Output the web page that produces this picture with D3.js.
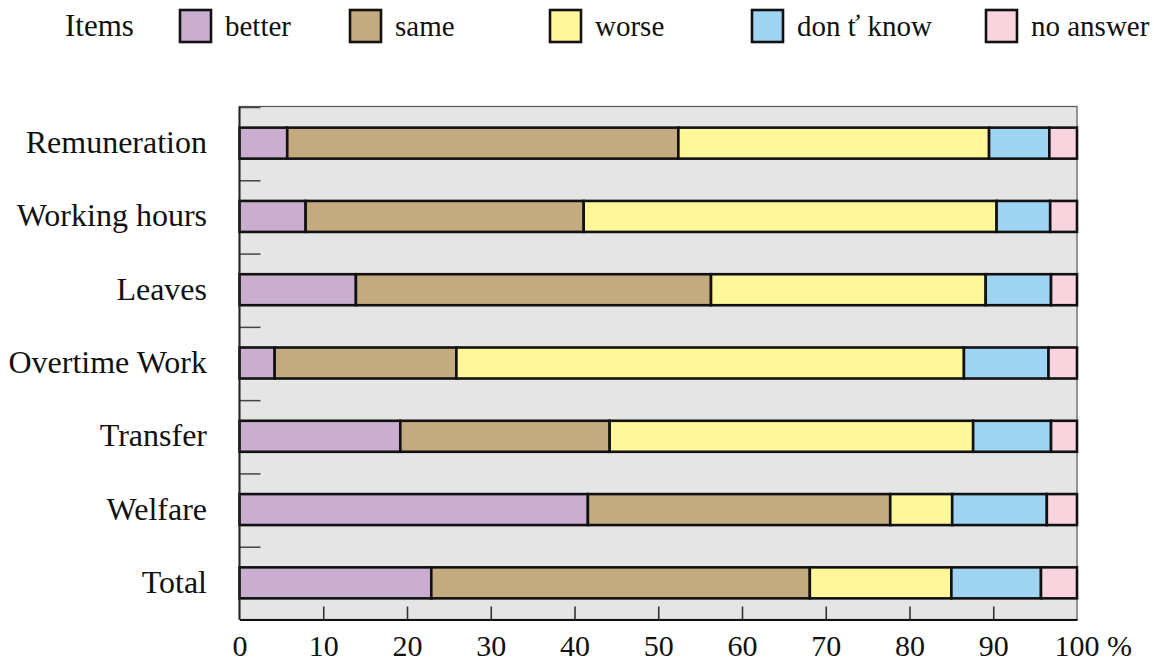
<!DOCTYPE html>
<html>
<head>
<meta charset="utf-8">
<script src="https://cdn.jsdelivr.net/npm/d3@7"></script>
</head>
<body style="margin:0">
<svg id="chart" width="1154" height="661" font-family="Liberation Serif"></svg>
<script>
// Survey items (rows, top to bottom)
const categories = ["Remuneration", "Working hours", "Leaves", "Overtime Work", "Transfer", "Welfare", "Total"];

// Answer groups, in stacking order
const seriesNames = ["better", "same", "worse", "don ť know", "no answer"];

// Share of answers per item (%)
const better   = [5.7,  7.9, 13.9,  4.2, 19.2, 41.6, 22.9];
const same     = [46.7, 33.2, 42.4, 21.7, 25.0, 36.1, 45.2];
const worse    = [37.1, 49.3, 32.8, 60.6, 43.4,  7.4, 16.9];
const dontKnow = [7.2,  6.4,  7.8, 10.1,  9.3, 11.3, 10.7];
const noAnswer = [3.3,  3.2,  3.1,  3.4,  3.1,  3.6,  4.3];

const xTicks = [0, 10, 20, 30, 40, 50, 60, 70, 80, 90, 100];

const colors = ["#c9aecf", "#c4aa7f", "#fff79a", "#9fd5f2", "#f9d3de"];

const SERIF = "Liberation Serif";

const svg = d3.select("#chart");

const plot = { left: 239.5, right: 1077, top: 106.5, bottom: 619.5 };

const x = d3.scaleLinear().domain([0, 100]).range([plot.left, plot.right]);
const y = d3.scaleBand().domain(categories).range([plot.top, plot.bottom]).padding(0);
const barH = 31;

// Stack the rows
const rows = categories.map((c, i) => ({
  item: c,
  [seriesNames[0]]: better[i],
  [seriesNames[1]]: same[i],
  [seriesNames[2]]: worse[i],
  [seriesNames[3]]: dontKnow[i],
  [seriesNames[4]]: noAnswer[i]
}));
const stacked = d3.stack().keys(seriesNames)(rows);

// Plot background and frame
svg.append("rect")
  .attr("x", plot.left).attr("y", plot.top)
  .attr("width", plot.right - plot.left).attr("height", plot.bottom - plot.top)
  .attr("fill", "#e5e5e5").attr("stroke", "#555").attr("stroke-width", 1.2);

// Short separators between rows on the left edge
const sepY = categories.map(c => y(c));
svg.append("g").selectAll("line").data(sepY).join("line")
  .attr("x1", plot.left).attr("x2", plot.left + 21)
  .attr("y1", d => d + 1).attr("y2", d => d + 1)
  .attr("stroke", "#444").attr("stroke-width", 1.5);

// Bars
const barG = svg.append("g");
stacked.forEach((layer, k) => {
  barG.append("g").selectAll("rect").data(layer).join("rect")
    .attr("x", d => x(d[0]))
    .attr("width", d => x(d[1]) - x(d[0]))
    .attr("y", d => y(d.data.item) + (y.bandwidth() - barH) / 2)
    .attr("height", barH)
    .attr("fill", colors[k])
    .attr("stroke", "#111")
    .attr("stroke-width", 2.6);
});

// Left axis line
svg.append("line")
  .attr("x1", plot.left).attr("x2", plot.left)
  .attr("y1", plot.top).attr("y2", plot.bottom)
  .attr("stroke", "#222").attr("stroke-width", 2);

// Bottom axis: inner ticks, labels below
const xAxis = d3.axisBottom(x)
  .tickValues(xTicks)
  .tickSize(0)
  .tickPadding(0)
  .tickFormat(d => d === 100 ? "100 %" : d);
const gx = svg.append("g").attr("transform", `translate(0,${plot.bottom})`).call(xAxis);
gx.attr("font-family", SERIF).attr("font-size", 30);
gx.select(".domain").attr("stroke", "#111").attr("stroke-width", 2.2);
gx.selectAll(".tick text")
  .attr("y", 36)
  .attr("dy", 0)
  .attr("font-size", 30)
  .style("font-family", SERIF)
  .attr("fill", "#111");
gx.selectAll(".tick")
  .filter(d => d === 100)
  .select("text")
  .attr("text-anchor", "start")
  .attr("dx", -23);
gx.selectAll(".tick")
  .filter(d => d > 0 && d < 100)
  .append("line")
  .attr("y1", 0).attr("y2", -13)
  .attr("stroke", "#333").attr("stroke-width", 1.6);

// Row labels
svg.append("g").selectAll("text").data(categories).join("text")
  .attr("x", 207)
  .attr("y", d => y(d) + y.bandwidth() / 2 + 10)
  .attr("text-anchor", "end")
  .attr("fill", "#111")
  .attr("font-size", 32)
  .style("font-family", SERIF)
  .text(d => d);

// Legend
const legend = svg.append("g");
legend.append("text")
  .attr("x", 65).attr("y", 36)
  .attr("fill", "#111")
  .attr("font-size", 31)
  .style("font-family", SERIF)
  .text("Items");
const legendX = [179, 349, 549, 751, 985];
const lg = legend.selectAll("g.item").data(seriesNames).join("g").attr("class", "item")
  .attr("transform", (d, i) => `translate(${legendX[i]},0)`);
lg.append("rect")
  .attr("x", 1).attr("y", 10).attr("width", 31).attr("height", 32)
  .attr("fill", (d, i) => colors[i])
  .attr("stroke", "#111").attr("stroke-width", 2.6);
lg.append("text")
  .attr("x", 46).attr("y", 36)
  .attr("fill", "#111")
  .attr("font-size", 29)
  .style("font-family", SERIF)
  .text(d => d);
</script>
</body>
</html>
